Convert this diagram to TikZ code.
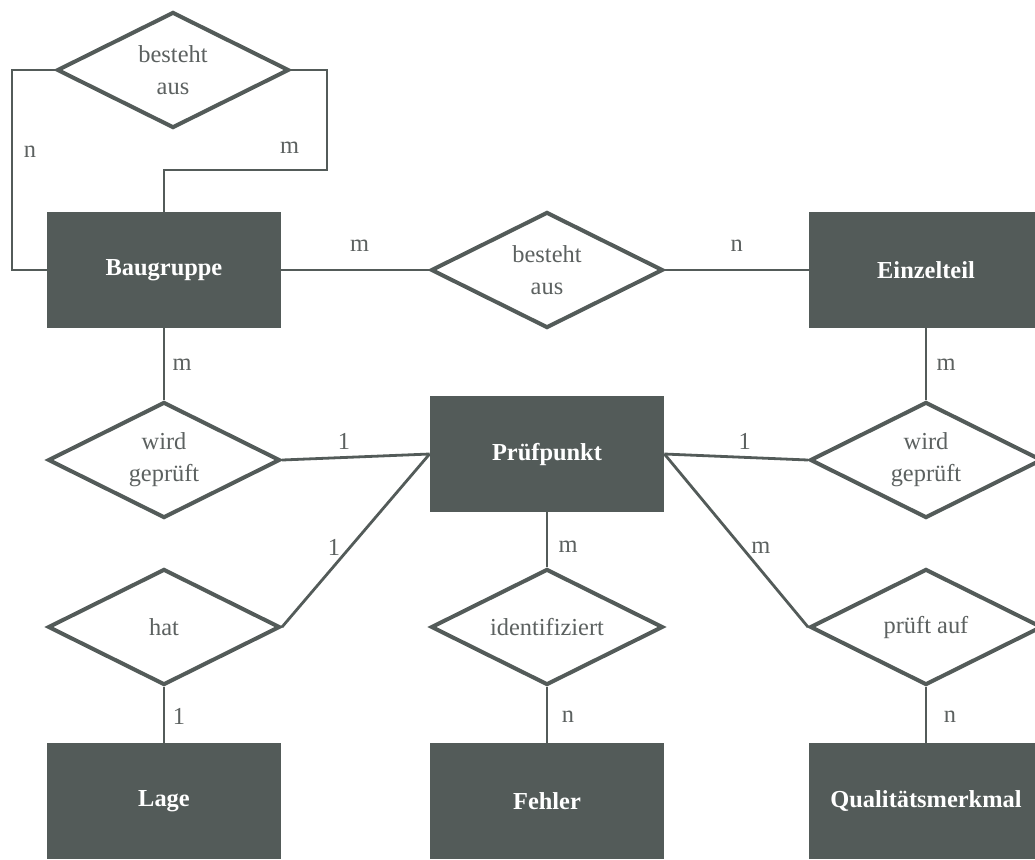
\documentclass[tikz,border=0pt]{standalone}
\usepackage{fontspec}
\setmainfont{Liberation Serif}
\usepackage{tikz}
\usetikzlibrary{shapes.geometric,positioning}
\definecolor{ergrey}{RGB}{83,91,89}
\definecolor{ertext}{RGB}{92,97,96}

\begin{document}
\begin{tikzpicture}[x=0.5pt, y=-0.5pt,
    entity/.style={rectangle, fill=ergrey, text=white, font=\fontsize{12.2}{15}\selectfont\bfseries,
        minimum width=117pt, minimum height=58pt, inner sep=0pt},
    rel/.style={diamond, draw=ergrey, line width=2pt, fill=white, aspect=2,
        minimum width=116pt, minimum height=58pt, inner sep=0pt, align=center,
        text=ertext, font=\fontsize{12.2}{16}\selectfont},
    conn/.style={draw=ergrey, line width=1.4pt},
    lbl/.style={font=\fontsize{12.2}{15}\selectfont, text=ertext, inner sep=0pt}
]
    \useasboundingbox (0,0) rectangle (1035,859);
    \clip (0,0) rectangle (1035,859);

    % === Entities ===
    \node[entity] (baugruppe) at (164,270) {Baugruppe};
    \node[entity] (einzelteil) at (926,270) {Einzelteil};
    \node[entity] (pruefpunkt) at (547,454) {Prüfpunkt};
    \node[entity] (lage) at (164,801) {Lage};
    \node[entity] (fehler) at (547,801) {Fehler};
    \node[entity] (merkmal) at (926,801) {Qualitätsmerkmal};

    % === Relationships ===
    \node[rel] (bestehtTop) at (173,70) {besteht\\aus};
    \node[rel] (bestehtMid) at (547,270) {besteht\\aus};
    \node[rel] (gepruefB) at (164,460) {wird\\geprüft};
    \node[rel] (gepruefE) at (926,460) {wird\\geprüft};
    \node[rel] (hat) at (164,627) {hat};
    \node[rel] (identifiziert) at (547,627) {identifiziert};
    \node[rel] (prueftauf) at (926,627) {prüft auf};

    % Self relation of Baugruppe
    \draw[conn] (baugruppe.west) -- (12,270)
        -- node[lbl, pos=0.59, xshift=9pt] {n} (12,70) -- (bestehtTop.west);
    \draw[conn] (bestehtTop.east) -- (327,70) -- (327,170)
        -- node[lbl, pos=0.23, yshift=11pt] {m} (164,170) -- (baugruppe.north);

    % Top row
    \draw[conn] (baugruppe.east) -- node[lbl, pos=0.53, yshift=12pt] {m} (bestehtMid.west);
    \draw[conn] (bestehtMid.east) -- node[lbl, pos=0.5, yshift=12pt] {n} (einzelteil.west);

    % Middle row
    \draw[conn] (baugruppe.south) -- node[lbl, pos=0.51, xshift=9pt] {m} (gepruefB.north);
    \draw[conn] (gepruefB.east) -- node[lbl, pos=0.42, yshift=8pt] {1} (pruefpunkt.west);
    \draw[conn] (einzelteil.south) -- node[lbl, pos=0.51, xshift=10pt] {m} (gepruefE.north);
    \draw[conn] (pruefpunkt.east) -- node[lbl, pos=0.56, yshift=8pt] {1} (gepruefE.west);

    % Bottom row
    \draw[conn] (hat.east) -- node[lbl, pos=0.46, xshift=-8pt] {1} (pruefpunkt.west);
    \draw[conn] (pruefpunkt.south) -- node[lbl, pos=0.63, xshift=10.5pt] {m} (identifiziert.north);
    \draw[conn] (pruefpunkt.east) -- node[lbl, pos=0.54, xshift=9.5pt] {m} (prueftauf.west);
    \draw[conn] (hat.south) -- node[lbl, pos=0.53, xshift=7.5pt] {1} (lage.north);
    \draw[conn] (identifiziert.south) -- node[lbl, pos=0.53, xshift=10.5pt] {n} (fehler.north);
    \draw[conn] (prueftauf.south) -- node[lbl, pos=0.53, xshift=12pt] {n} (merkmal.north);
\end{tikzpicture}
\end{document}
